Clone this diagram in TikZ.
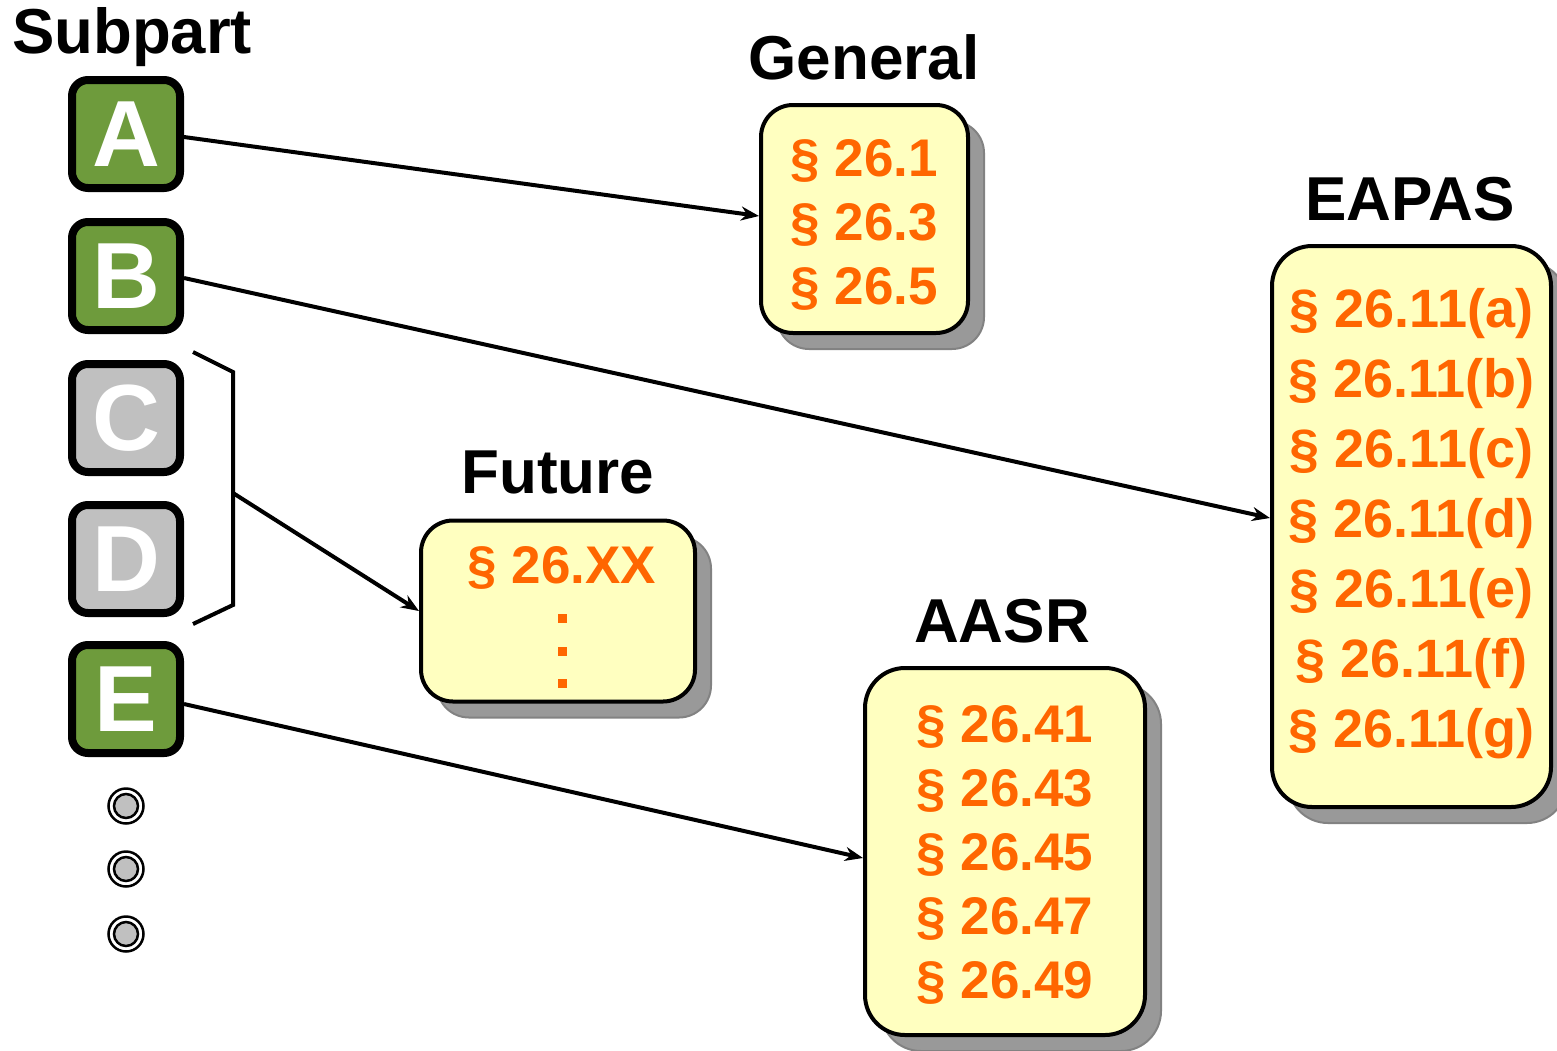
\documentclass[tikz,border=0pt]{standalone}
\usepackage{fontspec}
\setmainfont{Liberation Sans}
\usetikzlibrary{arrows.meta,shadows}
\definecolor{subgreen}{HTML}{6E9B3C}
\definecolor{subgray}{HTML}{C0C0C0}
\definecolor{secorange}{HTML}{FF6600}
\definecolor{boxyellow}{HTML}{FFFFC0}
\definecolor{shadowgray}{HTML}{999999}
\begin{document}
\begin{tikzpicture}[x=1pt,y=-1pt,
  subbox/.style={draw=black, line width=8pt, rounded corners=16pt,
    minimum width=108pt, minimum height=108pt, inner sep=0pt, text=white,
    font=\fontsize{94}{94}\selectfont\bfseries},
  greenbox/.style={subbox, fill=subgreen},
  graybox/.style={subbox, fill=subgray},
  secbox/.style={draw=black, line width=4pt, rounded corners=32pt, fill=boxyellow,
    inner sep=0pt, align=center, text=secorange,
    drop shadow={shadow xshift=16pt, shadow yshift=-16pt, opacity=1,
      fill=shadowgray, draw=shadowgray!85!black, line width=2pt}},
  title/.style={anchor=base, inner sep=0pt, font=\fontsize{62}{62}\selectfont\bfseries},
  link/.style={line width=4pt, -{Stealth[length=18pt,width=14pt]}},
  ring/.style={draw=black, line width=2.5pt},
]
\useasboundingbox (0,0) rectangle (1557,1050);
\clip (0,0) rectangle (1557,1050);

% titles
\node[title, anchor=base west, font=\fontsize{63.5}{63.5}\selectfont\bfseries] (tsub) at (12,53) {Subpart};
\node[title] (tgen) at (864,79) {General};
\node[title] (teap) at (1410,220) {EAPAS};
\node[title] (tfut) at (558,493) {Future};
\node[title] (taas) at (1002,642) {AASR};

% subpart boxes
\node[greenbox] (A) at (126,134) {A};
\node[greenbox] (B) at (126,276) {B};
\node[graybox]  (C) at (126,418) {C};
\node[graybox]  (D) at (126,559) {D};
\node[greenbox] (E) at (126,699) {E};

% ellipsis circles
\foreach \yy in {806,869,934}{
  \draw[ring] (126,\yy) circle (17.5);
  \draw[ring, fill=subgray] (126,\yy) circle (12);
}

% section boxes
\node[secbox, minimum width=207pt, minimum height=228pt,
  font=\fontsize{53}{64}\selectfont\bfseries] (gen) at (864.5,219)
  {\rule{0pt}{49pt}§ 26.1\\§ 26.3\\§ 26.5};
\node[secbox, minimum width=279pt, minimum height=561pt, rounded corners=40pt,
  font=\fontsize{54}{70}\selectfont\bfseries] (eap) at (1411.5,526.5)
  {§ 26.11(a)\\§ 26.11(b)\\§ 26.11(c)\\§ 26.11(d)\\§ 26.11(e)\\§ 26.11(f)\\§ 26.11(g)\rule[-18pt]{0pt}{1pt}};
\node[secbox, minimum width=274pt, minimum height=181pt] (fut) at (558,611) {};
\node[inner sep=0pt, text=secorange, font=\fontsize{53}{53}\selectfont\bfseries]
  (futtxt) at (562,568) {§ 26.XX};
\foreach \yy in {618,651,683}{
  \fill[secorange] (557.5,\yy-4.5) rectangle (566.5,\yy+4.5);
}
\node[secbox, minimum width=280pt, minimum height=367pt, rounded corners=40pt,
  font=\fontsize{53}{64}\selectfont\bfseries] (aas) at (1005,851.5)
  {\rule{0pt}{43pt}§ 26.41\\§ 26.43\\§ 26.45\\§ 26.47\\§ 26.49};

% brace
\coordinate (bm) at (233,493);
\draw[line width=4pt, line join=miter] (193,352) -- (233,372) -- (233,605) -- (193,624);

% connectors
\draw[link] ([yshift=-3pt]A.east) -- ([yshift=3pt]gen.west);
\draw[link] ([yshift=-2pt]B.east) -- ([yshift=8.5pt]eap.west);
\draw[link] (bm) -- (fut.west);
\draw[link] ([yshift=-5pt]E.east) -- ([yshift=-6.5pt]aas.west);
\end{tikzpicture}
\end{document}
